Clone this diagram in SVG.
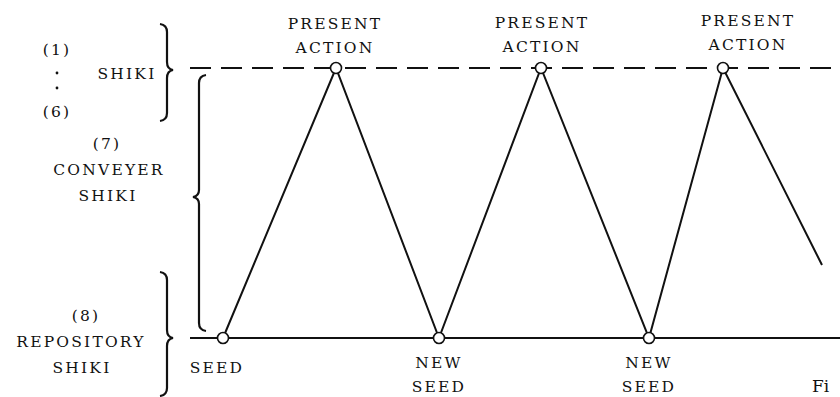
<svg xmlns="http://www.w3.org/2000/svg" width="840" height="397" viewBox="0 0 840 397">
<style>
.t{font-family:"DejaVu Serif","Liberation Serif",serif;font-size:15.5px;fill:#111;text-anchor:middle;letter-spacing:2.2px}
.ln{stroke:#111;stroke-width:2;fill:none}
.br{stroke:#111;stroke-width:2.2;fill:none}
.nd{fill:#fff;stroke:#111;stroke-width:1.6}
</style>
<rect width="840" height="397" fill="#fff"/>
<g id="labels-left" class="t">
<text x="57" y="55">(1)</text>
<circle cx="57" cy="73" r="1.4" fill="#111"/>
<circle cx="57" cy="88" r="1.4" fill="#111"/>
<text x="57" y="117">(6)</text>
<text x="127" y="79">SHIKI</text>
<text x="107" y="149">(7)</text>
<text x="109" y="175">CONVEYER</text>
<text x="108" y="201">SHIKI</text>
<text x="86" y="321">(8)</text>
<text x="81" y="347">REPOSITORY</text>
<text x="82" y="373">SHIKI</text>
</g>
<g id="braces">
<path class="br" d="M160,24 Q167,25 167,32 L167,62 Q167,69 173,70 Q167,71 167,78 L167,113 Q167,120 160,121"/>
<path class="br" d="M160,272 Q167,273 167,280 L167,330 Q167,337 173,338 Q167,339 167,346 L167,388 Q167,395 160,396"/>
<path class="br" d="M206,75 Q199,76 199,83 L199,190 Q199,196 193,197 Q199,198 199,204 L199,323 Q199,330 206,331"/>
</g>
<g id="connectors">
<line class="ln" x1="190" y1="68" x2="840" y2="68" stroke-dasharray="21 10"/>
<line class="ln" x1="190" y1="338" x2="840" y2="338"/>
<polyline class="ln" points="223,338 336,68 439,338 541,68 649,338 723,68 822,265"/>
</g>
<g id="seed" class="t"><circle class="nd" cx="223" cy="338" r="5.5"/><text x="217" y="373">SEED</text></g>
<g id="action1" class="t"><circle class="nd" cx="336" cy="68" r="5.5"/><text x="335" y="29">PRESENT</text><text x="335" y="53">ACTION</text></g>
<g id="newseed1" class="t"><circle class="nd" cx="439" cy="338" r="5.5"/><text x="439" y="368">NEW</text><text x="439" y="392">SEED</text></g>
<g id="action2" class="t"><circle class="nd" cx="541" cy="68" r="5.5"/><text x="542" y="28">PRESENT</text><text x="542" y="52">ACTION</text></g>
<g id="newseed2" class="t"><circle class="nd" cx="649" cy="338" r="5.5"/><text x="649" y="368">NEW</text><text x="649" y="392">SEED</text></g>
<g id="action3" class="t"><circle class="nd" cx="723" cy="68" r="5.5"/><text x="748" y="26">PRESENT</text><text x="748" y="50">ACTION</text></g>
<text class="t" x="812" y="392" style="font-size:17px;text-anchor:start;letter-spacing:0">Fi</text>
</svg>
